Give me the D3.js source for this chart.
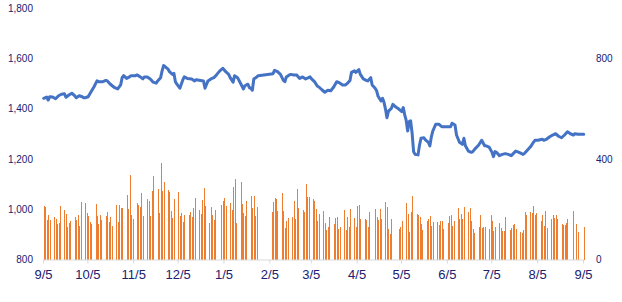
<!DOCTYPE html>
<html><head><meta charset="utf-8">
<script src="https://cdn.jsdelivr.net/npm/d3@7"></script>
<style>body{margin:0;background:#fff}svg{display:block}</style>
</head><body>
<svg id="c" width="622" height="302"></svg>
<script>
// ---- data ----
const startDate = "2016-09-05";
const endDate = "2017-09-05";
const xTickLabels = ["9/5","10/5","11/5","12/5","1/5","2/5","3/5","4/5","5/5","6/5","7/5","8/5","9/5"];
const leftTicks = [800,1000,1200,1400,1600,1800];
const rightTicks = [0,400,800];

// price line: days since startDate, value
const priceDayOffsets = [0,2,3,4,6,8,10,12,14,15,17,19,21,22,24,26,27,28,30,31,32,34,36,37,40,42,43,45,48,50,52,53,54,56,58,59,62,63,65,67,68,70,72,74,76,77,79,80,81,82,84,85,87,88,89,90,
92,94,95,97,100,102,103,106,108,109,111,113,115,117,119,121,123,125,126,128,129,131,133,135,136,138,139,140,141,142,144,145,155,156,158,160,162,163,164,166,167,169,171,172,173,175,177,179,180,
181,183,185,186,188,190,192,194,196,198,200,202,204,205,207,208,210,211,213,214,216,218,219,221,222,224,225,226,228,229,230,231,232,233,235,236,238,240,242,243,244,245,246,247,248,249,250,251,253,254,255,257,258,260,261,262,263,265,267,269,271,273,
275,276,278,279,281,283,284,285,287,289,290,292,294,296,298,299,301,303,304,305,306,308,310,312,314,316,319,320,322,324,325,327,329,331,332,334,337,338,340,342,344,346,348,350,352,354,356,358,359,361,364,365];
const priceValues = [1441,1446,1434,1447,1446,1439,1451,1457,1459,1445,1454,1461,1451,1443,1451,1447,1443,1443,1447,1457,1467,1487,1510,1507,1507,1512,1510,1497,1483,1478,1494,1523,1531,1520,1526,1531,1531,1534,1527,1518,1526,1526,1518,1505,1501,1510,1523,1550,1571,1567,1557,1547,1536,1540,1507,1497,
1481,1514,1526,1520,1518,1510,1515,1512,1510,1481,1510,1518,1523,1536,1550,1560,1547,1536,1523,1505,1531,1523,1501,1478,1491,1497,1483,1481,1473,1518,1526,1531,1539,1552,1547,1536,1512,1507,1526,1534,1536,1534,1534,1526,1520,1526,1518,1523,1526,
1518,1507,1489,1486,1475,1465,1473,1471,1486,1507,1502,1494,1494,1499,1512,1544,1550,1544,1555,1536,1518,1512,1510,1523,1494,1481,1471,1449,1430,1441,1425,1398,1364,1390,1401,1417,1406,1398,1388,1404,1375,1353,1311,1348,1351,1302,1229,1218,1216,1255,1282,1284,1276,1266,1252,1288,1311,1338,1338,1328,1328,1328,
1328,1342,1335,1295,1266,1258,1282,1252,1231,1226,1229,1243,1255,1274,1252,1252,1247,1226,1209,1229,1226,1213,1218,1221,1218,1213,1231,1229,1224,1218,1222,1235,1248,1266,1274,1274,1278,1274,1279,1288,1295,1300,1290,1284,1295,1308,1300,1295,1300,1298,1298,1298];

// volume: one row per week (Mon..Fri) starting at startDate, null = no trading
const volumeWeeks = [
[213,209,157,177,157],[169,161,141,145,213],[197,181,129,145,153],[169,157,177,133,229],
[225,185,173,149,141],[221,173,141,177,157],[173,189,149,169,133],[217,149,217,205,205],
[256,201,336,177,161],[225,217,209,264,173],[241,233,173,272,332],[280,185,384,272,308],
[276,268,193,165,241],[268,173,185,149,177],[177,189,169,205,245],[197,181,237,284,213],
[145,209,177,157,197],[null,217,233,245,213],[225,197,288,320,145],[308,221,185,173,233],
[252,205,252,173,209],[null,null,null,null,null],[189,229,245,241,193],[264,193,125,153,165],
[169,233,161,280,205],[197,189,300,249,249],[241,233,201,153,181],[193,145,117,129,169],
[141,165,169,121,129],[197,117,169,129,201],[165,129,213,217,161],[161,157,129,189,null],
[201,169,157,201,161],[229,209,121,101,161],[null,null,121,129,153],[225,181,109,189,252],
[181,177,169,141,117],[153,161,173,133,149],[149,137,153,153,121],[145,173,177,133,153],
[205,161,181,161,209],[189,205,153,121,105],[129,177,125,129,129],[121,177,153,113,129],
[145,125,113,113,169],[117,125,137,141,121],[109,105,117,189,177],[189,185,213,177,185],
[153,177,133,193,125],[161,177,165,177,161],[141,137,137,145,161],[null,193,null,141,109],
[null,129]
];

// ---- chart ----
const parse = d3.utcParse("%Y-%m-%d");
const t0 = parse(startDate), t1 = parse(endDate);
const svg = d3.select("#c");
const textColor = "#202070";
const font = "'Liberation Sans', Arial, sans-serif";

const x = d3.scaleUtc().domain([t0, t1]).range([43, 583]);
const yL = d3.scaleLinear().domain([800, 1800]).range([259.5, 8]);
const yR = d3.scaleLinear().domain([0, 1000]).range([259.5, 8]);
const dayW = x(d3.utcDay.offset(t0, 1)) - x(t0);

const bars = [];
volumeWeeks.forEach((wk, w) => wk.forEach((v, i) => {
  if (v != null) bars.push({date: d3.utcDay.offset(t0, w * 7 + i), v});
}));

svg.append("g").selectAll("rect").data(bars).join("rect")
  .attr("x", d => Math.round(x(d.date) + dayW / 2))
  .attr("width", 1)
  .attr("y", d => yR(d.v))
  .attr("height", d => yR(0) - yR(d.v))
  .attr("fill", "#ED7D31")
  .attr("shape-rendering", "crispEdges");

// bottom axis
const tickDates = xTickLabels.map((lab, i) => d3.utcDay.offset(d3.utcMonth.offset(parse("2016-09-01"), i), 4));
const xAxis = d3.axisBottom(x).tickValues(tickDates).tickSize(4).tickSizeOuter(0)
  .tickFormat((d, i) => xTickLabels[i]);
const gx = svg.append("g").attr("transform", "translate(0,259.5)").call(xAxis);
gx.select(".domain").attr("stroke", "#D9D9D9");
gx.selectAll(".tick line").attr("stroke", "#D9D9D9");
gx.selectAll(".tick text").attr("fill", textColor).attr("font-size", 13)
  .attr("font-family", font).attr("y", 10).attr("dy", "0.71em");

// price line
const pts = priceDayOffsets.map((d, i) => ({date: d3.utcDay.offset(t0, d), v: priceValues[i]}));
svg.append("path").datum(pts)
  .attr("fill", "none").attr("stroke", "#4472C4").attr("stroke-width", 3)
  .attr("stroke-linejoin", "round").attr("stroke-linecap", "round")
  .attr("d", d3.line().x(d => x(d.date) + dayW / 2).y(d => yL(d.v)));

// left axis
const gl = svg.append("g").attr("transform", "translate(33,0)")
  .call(d3.axisLeft(yL).tickValues(leftTicks).tickSize(0).tickPadding(0).tickFormat(d3.format(",")));
gl.select(".domain").remove();
gl.selectAll(".tick text").attr("fill", textColor).attr("font-size", 10).attr("font-family", font);

// right axis
const gr = svg.append("g").attr("transform", "translate(596,0)")
  .call(d3.axisRight(yR).tickValues(rightTicks).tickSize(0).tickPadding(0));
gr.select(".domain").remove();
gr.selectAll(".tick text").attr("fill", textColor).attr("font-size", 10).attr("font-family", font);
</script>
</body></html>
